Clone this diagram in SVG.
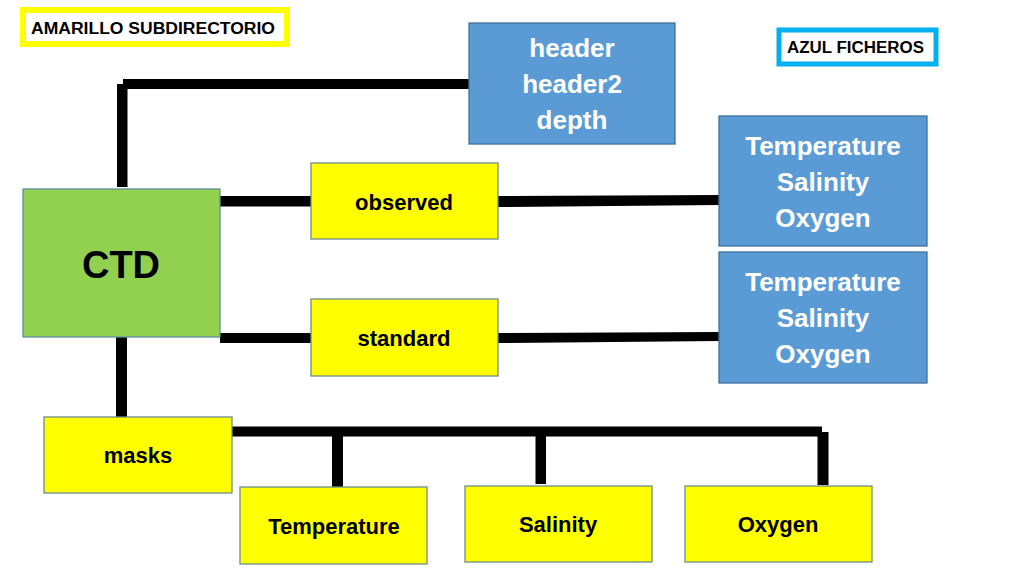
<svg xmlns="http://www.w3.org/2000/svg" width="1024" height="576" viewBox="0 0 1024 576">
<style>
  text { font-family: "Liberation Sans", Arial, sans-serif; font-weight: bold; text-anchor: middle; }
  .blue { fill: #5B9BD5; stroke: #41719C; stroke-width: 1.3; }
  .yel { fill: #FFFF00; stroke: #6F8C8C; stroke-width: 1.3; }
  .grn { fill: #92D050; stroke: #5F8FA0; stroke-width: 1.3; }
  .wt { fill: #FFFFFF; font-size: 26px; }
  .bk { fill: #000000; font-size: 22px; }
  .leg { fill: #000000; font-size: 16px; text-anchor: start; }
  .conn rect { fill: #000000; }
</style>
<rect width="1024" height="576" fill="#FFFFFF"/>

<g id="legend-amarillo">
  <rect x="23" y="10" width="264" height="34" fill="#FFFFFF" stroke="#FFFF00" stroke-width="6"/>
  <text class="leg" x="31" y="34" textLength="244" lengthAdjust="spacingAndGlyphs">AMARILLO SUBDIRECTORIO</text>
</g>
<g id="legend-azul">
  <rect x="779" y="30" width="157" height="34" fill="#FFFFFF" stroke="#00B0F0" stroke-width="5"/>
  <text class="leg" x="787" y="53" textLength="137" lengthAdjust="spacingAndGlyphs">AZUL FICHEROS</text>
</g>

<g id="connectors" class="conn">
  <rect x="117" y="84" width="10.5" height="103"/>
  <rect x="123" y="79" width="346" height="10"/>
  <rect x="220" y="196" width="91" height="10.5"/>
  <polygon points="498,196 720,195 720,205 498,207" fill="#000000"/>
  <rect x="220" y="333" width="91" height="10"/>
  <polygon points="498,333 720,332 720,341 498,343" fill="#000000"/>
  <rect x="116" y="337" width="11" height="80"/>
  <rect x="232" y="426.5" width="590" height="10"/>
  <rect x="332" y="436" width="11" height="51"/>
  <rect x="535.5" y="436" width="10.5" height="48"/>
  <rect x="817.5" y="432" width="11" height="53"/>
</g>

<g id="node-header">
  <rect class="blue" x="469" y="23" width="206" height="121"/>
  <text class="wt" x="572" y="57">header</text>
  <text class="wt" x="572" y="93">header2</text>
  <text class="wt" x="572" y="129">depth</text>
</g>
<g id="node-files-observed">
  <rect class="blue" x="719" y="116" width="208" height="130"/>
  <text class="wt" x="823" y="155">Temperature</text>
  <text class="wt" x="823" y="191">Salinity</text>
  <text class="wt" x="823" y="227">Oxygen</text>
</g>
<g id="node-files-standard">
  <rect class="blue" x="719" y="252" width="208" height="131"/>
  <text class="wt" x="823" y="291">Temperature</text>
  <text class="wt" x="823" y="327">Salinity</text>
  <text class="wt" x="823" y="363">Oxygen</text>
</g>
<g id="node-ctd">
  <rect class="grn" x="23" y="189" width="197" height="148"/>
  <text x="121" y="278" style="font-size:38px;fill:#000000">CTD</text>
</g>
<g id="node-observed">
  <rect class="yel" x="311" y="163" width="187" height="76"/>
  <text class="bk" x="404" y="210">observed</text>
</g>
<g id="node-standard">
  <rect class="yel" x="311" y="299" width="187" height="77"/>
  <text class="bk" x="404" y="346">standard</text>
</g>
<g id="node-masks">
  <rect class="yel" x="44" y="417" width="188" height="76"/>
  <text class="bk" x="138" y="463">masks</text>
</g>
<g id="node-mask-temperature">
  <rect class="yel" x="240" y="487" width="187" height="77"/>
  <text class="bk" x="334" y="534">Temperature</text>
</g>
<g id="node-mask-salinity">
  <rect class="yel" x="465" y="486" width="187" height="76"/>
  <text class="bk" x="558" y="532">Salinity</text>
</g>
<g id="node-mask-oxygen">
  <rect class="yel" x="685" y="486" width="187" height="76"/>
  <text class="bk" x="778" y="532">Oxygen</text>
</g>
</svg>
